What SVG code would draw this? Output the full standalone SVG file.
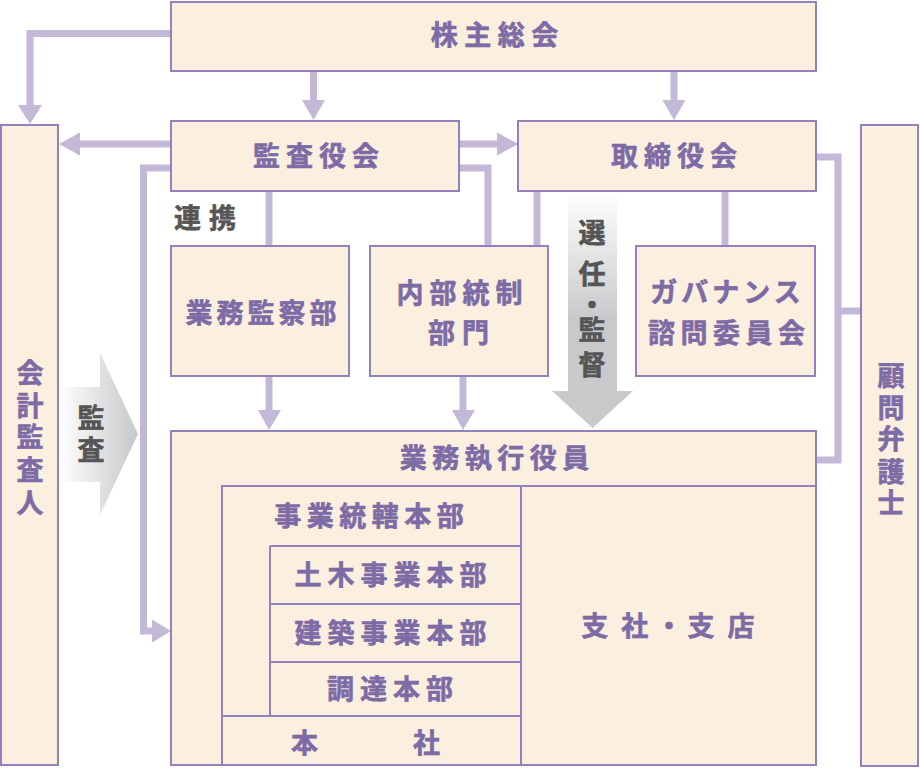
<svg xmlns="http://www.w3.org/2000/svg" width="920" height="768" viewBox="0 0 920 768">
<defs>
<style>
.box{fill:#fbefdf;stroke:#9381bb;stroke-width:2}
.inner{fill:none;stroke:#9381bb;stroke-width:2}
.con{fill:none;stroke:#c4b8d9;stroke-width:7}
.head{fill:#c4b8d9}
.t{font-family:"Noto Sans CJK JP","Noto Sans CJK SC",sans-serif;font-weight:700;font-size:27px;fill:#7d6ba6;stroke:#7d6ba6;stroke-width:0.6px;text-anchor:middle}
.g{font-family:"Noto Sans CJK JP","Noto Sans CJK SC",sans-serif;font-weight:700;font-size:27px;fill:#555555;stroke:#555555;stroke-width:0.6px;text-anchor:middle}
</style>
<linearGradient id="gv" gradientUnits="userSpaceOnUse" x1="0" y1="191" x2="0" y2="320">
<stop offset="0" stop-color="#ffffff"/>
<stop offset="1" stop-color="#c8c9cb"/>
</linearGradient>
<linearGradient id="gh" gradientUnits="userSpaceOnUse" x1="58" y1="0" x2="136" y2="0">
<stop offset="0" stop-color="#ffffff"/>
<stop offset="1" stop-color="#c8c9cb"/>
</linearGradient>
</defs>
<rect width="920" height="768" fill="#ffffff"/>

<g id="connectors">
<path class="con" d="M171,33.5 H30 V106"/>
<polygon class="head" points="18,105 42,105 30,124"/>
<path class="con" d="M313.5,71 V101"/>
<polygon class="head" points="302,100 325,100 313.5,120"/>
<path class="con" d="M674,71 V101"/>
<polygon class="head" points="662.5,100 685.5,100 674,120"/>
<path class="con" d="M171,144 H79"/>
<polygon class="head" points="80,132.5 80,155.5 59,144"/>
<path class="con" d="M459,144 H498"/>
<polygon class="head" points="497,132.5 497,155.5 518,144"/>
<path class="con" d="M171,168 H143.5 V631 H153"/>
<polygon class="head" points="152,619.5 152,642.5 171,631"/>
<path class="con" d="M269,191 V246"/>
<path class="con" d="M459,168 H488 V246"/>
<path class="con" d="M537,191 V246"/>
<path class="con" d="M725,191 V246"/>
<path class="con" d="M816,157 H838 V460 H816"/>
<path class="con" d="M838,311 H861"/>
<path class="con" d="M269,376 V411"/>
<polygon class="head" points="258,410 281,410 269,430"/>
<path class="con" d="M463,376 V411"/>
<polygon class="head" points="452,410 475,410 463,430"/>
<polygon fill="url(#gv)" points="568,191 617,191 617,391 633,391 592.5,428 552,391 568,391"/>
<polygon fill="url(#gh)" points="58,387 100,387 100,353 138,434 100,515 100,482 58,482"/>
</g>

<g id="kabunushi">
<rect class="box" x="171" y="2" width="645" height="69"/>
<text class="t" x="497.75" y="45" style="letter-spacing:6.5px">株主総会</text>
</g>
<g id="kansayakukai">
<rect class="box" x="171" y="121" width="288" height="70"/>
<text class="t" x="319" y="166" style="letter-spacing:6px">監査役会</text>
</g>
<g id="torishimariyakukai">
<rect class="box" x="518" y="121" width="298" height="70"/>
<text class="t" x="677" y="166" style="letter-spacing:6px">取締役会</text>
</g>
<g id="kaikei">
<rect class="box" x="1" y="125" width="57" height="640"/>
<text class="t" x="30 30 30 30 30" y="383 416 447 480 513">会計監査人</text>
</g>
<g id="komon">
<rect class="box" x="861" y="125" width="57" height="641"/>
<text class="t" x="891 891 891 891 891" y="386 417.5 449 482 513">顧問弁護士</text>
</g>
<g id="gyomukansatsu">
<rect class="box" x="171" y="246" width="178" height="130"/>
<text class="t" x="263" y="323" style="letter-spacing:4px">業務監察部</text>
</g>
<g id="naibutosei">
<rect class="box" x="370" y="246" width="178" height="130"/>
<text class="t" x="462.5" y="302.5" style="letter-spacing:6px">内部統制</text>
<text class="t" x="462" y="343" style="letter-spacing:7px">部門</text>
</g>
<g id="governance">
<rect class="box" x="636" y="246" width="179" height="130"/>
<text class="t" x="727.5" y="302" style="letter-spacing:4px">ガバナンス</text>
<text class="t" x="729.25" y="343" style="letter-spacing:5.5px">諮問委員会</text>
</g>
<g id="gyomushikko">
<rect class="box" x="171" y="431" width="645" height="334"/>
<text class="t" x="497.25" y="468" style="letter-spacing:5.5px">業務執行役員</text>
<path class="inner" d="M222,765 V486 H816 M521,486 V765 M270,546 H521 M270,546 V716 M270,604 H521 M270,662 H521 M222,716 H521"/>
</g>
<g id="jigyotokatsu">
<text class="t" x="371.75" y="525.5" style="letter-spacing:5.5px">事業統轄本部</text>
</g>
<g id="doboku">
<text class="t" x="393.5" y="585" style="letter-spacing:6px">土木事業本部</text>
</g>
<g id="kenchiku">
<text class="t" x="393.5" y="642.5" style="letter-spacing:6px">建築事業本部</text>
</g>
<g id="chotatsu">
<text class="t" x="393" y="699" style="letter-spacing:6px">調達本部</text>
</g>
<g id="honsha">
<text class="t" x="304.5 426.5" y="753">本社</text>
</g>
<g id="shisha">
<text class="t" x="594.7 634.7 669 701 741" y="635.5">支社・支店</text>
</g>
<g id="labels">
<text class="g" x="209" y="228" style="letter-spacing:8px">連携</text>
<text class="g" x="592 592 592 592 592" y="243 284 315 340 375">選任・監督</text>
<text class="g" x="91 91" y="427.5 460">監査</text>
</g>
</svg>
